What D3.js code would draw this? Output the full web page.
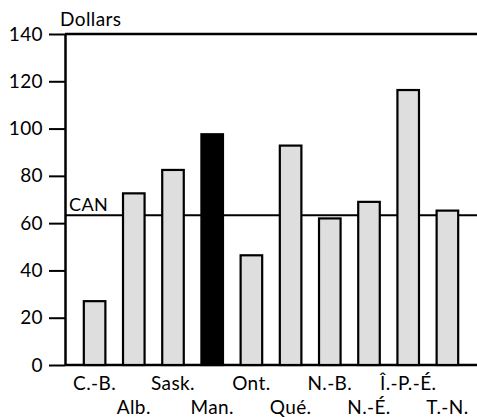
<!DOCTYPE html>
<html>
<head>
<meta charset="utf-8">
<script src="https://cdn.jsdelivr.net/npm/d3@7"></script>
<style>
  body { margin: 0; background: #fff; }
  text { font-family: Lato, "DejaVu Sans", sans-serif; fill: #000; letter-spacing: 0.4px; }
</style>
</head>
<body>
<div id="chart"></div>
<script>
var provinces = ["C.-B.", "Alb.", "Sask.", "Man.", "Ont.", "Qué.", "N.-B.", "N.-É.", "Î.-P.-É.", "T.-N."];
var dollars = [27, 72.6, 82.5, 97.6, 46.4, 92.8, 62, 69, 116.3, 65.3];
var highlight = "Man.";
var canAverage = 63.3;
var yTicks = [0, 20, 40, 60, 80, 100, 120, 140];

var W = 477, H = 417;
var x0 = 65, x1 = 477, yTop = 34, yZero = 365;

var svg = d3.select("#chart")
    .append("svg")
    .attr("width", W)
    .attr("height", H);

var xScale = d3.scaleBand()
    .domain(provinces)
    .range([x0, x1])
    .paddingInner(0.45)
    .paddingOuter(0.48);

var yScale = d3.scaleLinear()
    .domain([0, 140])
    .range([yZero, yTop]);

// y axis
var yAxis = svg.append("g")
    .attr("transform", "translate(" + x0 + ",0)")
    .call(d3.axisLeft(yScale)
        .tickValues(yTicks)
        .tickSize(16)
        .tickSizeOuter(0)
        .tickPadding(6));
yAxis.select(".domain").attr("stroke-width", 2.5);
yAxis.selectAll(".tick line").attr("stroke-width", 2);
yAxis.selectAll(".tick text")
    .attr("font-size", 19)
    .attr("font-family", "Lato, sans-serif");

// horizontal lines at 0 and 140
svg.selectAll(".hline")
    .data([0, 140])
    .enter()
    .append("line")
    .attr("x1", x0)
    .attr("x2", x1)
    .attr("y1", function (d) { return yScale(d); })
    .attr("y2", function (d) { return yScale(d); })
    .attr("stroke", "black")
    .attr("stroke-width", 2.5);

// Canada average line
svg.append("line")
    .attr("x1", x0)
    .attr("x2", x1)
    .attr("y1", yScale(canAverage))
    .attr("y2", yScale(canAverage))
    .attr("stroke", "black")
    .attr("stroke-width", 2);

svg.append("text")
    .attr("x", x0 + 4)
    .attr("y", yScale(canAverage) - 4)
    .attr("font-size", 18)
    .text("CAN");

// bars
svg.selectAll(".bar")
    .data(provinces)
    .enter()
    .append("rect")
    .attr("x", function (d) { return xScale(d); })
    .attr("y", function (d, i) { return yScale(dollars[i]); })
    .attr("width", xScale.bandwidth())
    .attr("height", function (d, i) { return yScale(0) - yScale(dollars[i]); })
    .attr("fill", function (d) { return d === highlight ? "black" : "#dedede"; })
    .attr("stroke", "black")
    .attr("stroke-width", 2.2);

// category labels, alternating rows
svg.selectAll(".xlabel")
    .data(provinces)
    .enter()
    .append("text")
    .attr("x", function (d) { return xScale(d) + xScale.bandwidth() / 2; })
    .attr("y", function (d, i) { return i % 2 === 0 ? 390 : 414; })
    .attr("text-anchor", "middle")
    .attr("font-size", 19)
    .text(function (d) { return d; });

svg.append("text")
    .attr("x", 60)
    .attr("y", 26)
    .attr("font-size", 19)
    .text("Dollars");
</script>
</body>
</html>
